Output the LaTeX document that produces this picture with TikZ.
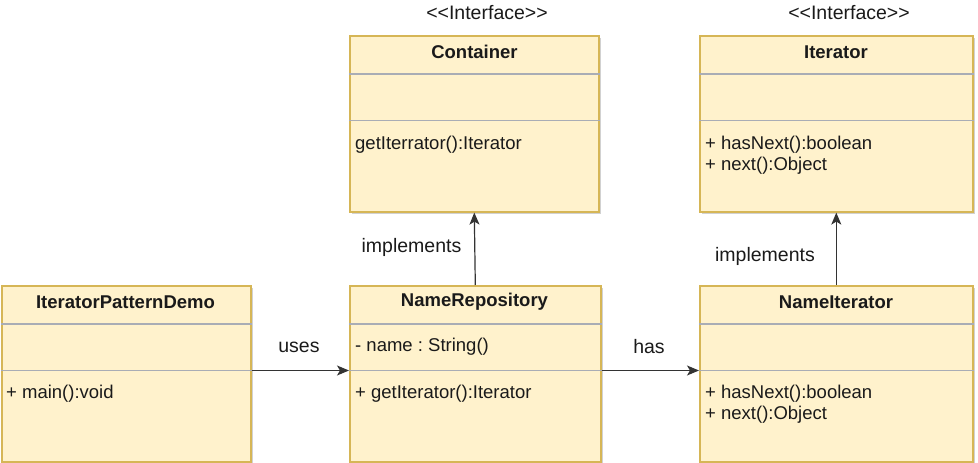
\documentclass[tikz,border=0pt]{standalone}
\usepackage{fontspec}
\setmainfont[Ligatures=NoCommon]{Liberation Sans}
\usetikzlibrary{arrows.meta,shadows}
\definecolor{boxfill}{HTML}{FFF2CC}
\definecolor{boxborder}{HTML}{D6B656}
\definecolor{sepcol}{HTML}{A9ADB5}
\definecolor{linecol}{HTML}{333333}
\definecolor{txtcol}{HTML}{1A1A1A}
\frenchspacing
\tikzset{
  cls/.style={draw=boxborder, line width=1.6pt, fill=boxfill, anchor=north west, inner sep=0pt,
    drop shadow={shadow xshift=2.5pt, shadow yshift=-2.5pt, fill=black, opacity=0.18}},
  sep/.style={draw=sepcol, line width=1.2pt},
  ttl/.style={font=\fontsize{18.5}{22}\selectfont\bfseries, text=txtcol, inner sep=0pt, anchor=center},
  mem/.style={font=\fontsize{18.5}{22}\selectfont, text=txtcol, inner sep=0pt, anchor=west},
  lbl/.style={font=\fontsize{19.5}{23}\selectfont, text=txtcol, inner sep=0pt, anchor=center},
  arr/.style={draw=linecol, line width=1.2pt, -{Stealth[length=12pt,width=10pt,inset=3pt]}}
}
\begin{document}
\begin{tikzpicture}[x=1pt,y=-1pt]
\useasboundingbox (0,0) rectangle (978,463);
% boxes
\node[cls, minimum width=249pt, minimum height=176pt] (cont) at (349,35) {};
\node[cls, minimum width=273pt, minimum height=176pt] (itf) at (699,35) {};
\node[cls, minimum width=249pt, minimum height=176pt] (demo) at (1,285) {};
\node[cls, minimum width=251pt, minimum height=176pt] (repo) at (349,285) {};
\node[cls, minimum width=273pt, minimum height=176pt] (nit) at (699,285) {};
% separators
\foreach \b in {cont,itf,demo,repo,nit}{
  \draw[sep] ([yshift=-39pt]\b.north west) -- ([yshift=-39pt]\b.north east);
  \draw[sep] ([yshift=-85.5pt]\b.north west) -- ([yshift=-85.5pt]\b.north east);
}
% stereotypes
\node[lbl] (st1) at (487,13) {{<}{<}Interface{>}{>}};
\node[lbl] (st2) at (849,13) {{<}{<}Interface{>}{>}};
% titles
\node[ttl] (t1) at (474.5,52) {Container};
\node[ttl] (t2) at (836,52) {Iterator};
\node[ttl] (t3) at (125.5,302) {IteratorPatternDemo};
\node[ttl] (t4) at (474.5,302) {NameRepository};
\node[ttl] (t5) at (836,302) {NameIterator};
% members
\node[mem] (m1) at (355,145) {getIterrator():Iterator};
\node[mem] (m2) at (705,145) {+ hasNext():boolean};
\node[mem] (m3) at (705,166) {+ next():Object};
\node[mem] (m4) at (6,394) {+ main():void};
\node[mem] (m5) at (355,347) {- name : String()};
\node[mem] (m6) at (355,394) {+ getIterator():Iterator};
\node[mem] (m7) at (705,394) {+ hasNext():boolean};
\node[mem] (m8) at (705,415) {+ next():Object};
% connectors
\draw[arr] ([yshift=-85.5pt]demo.north east) -- ([yshift=-85.5pt]repo.north west);
\draw[arr] ([yshift=-85.5pt]repo.north east) -- ([yshift=-85.5pt]nit.north west);
\draw[arr] (repo.north) -- (cont.south);
\draw[arr] (nit.north) -- (itf.south);
% labels
\node[lbl] (l1) at (299,347) {uses};
\node[lbl] (l2) at (649,347) {has};
\node[lbl] (l3) at (411.5,247) {implements};
\node[lbl] (l4) at (765,256) {implements};
\end{tikzpicture}
\end{document}
